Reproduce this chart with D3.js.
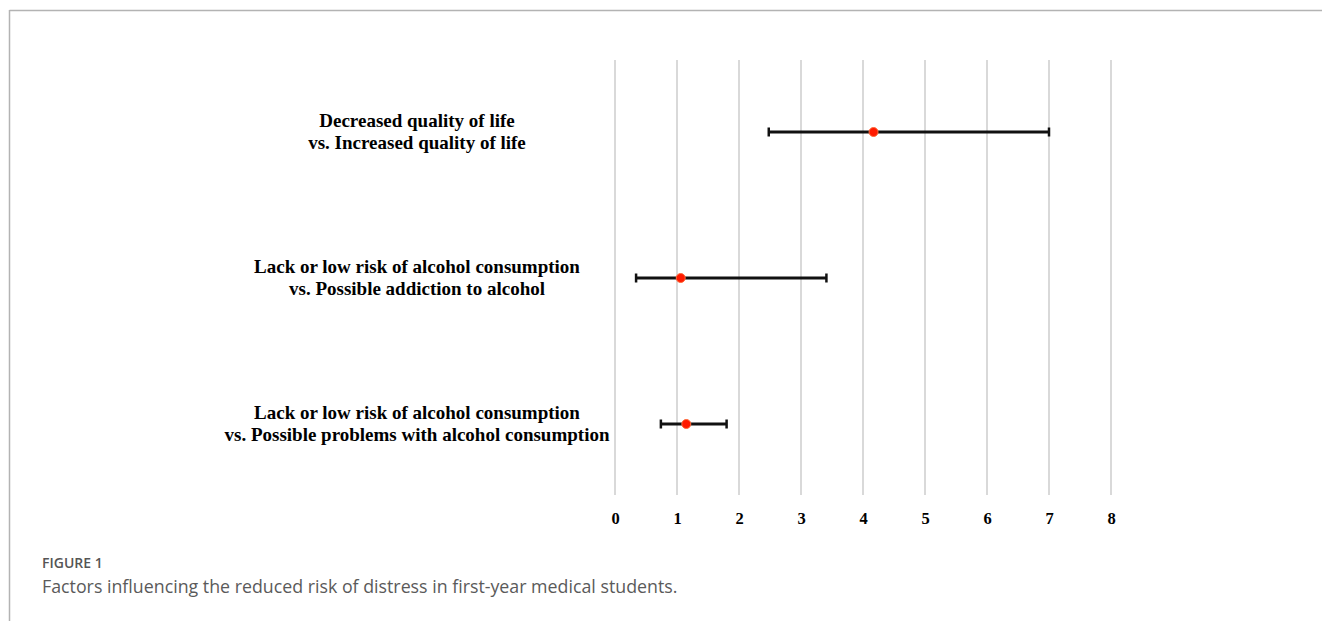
<!DOCTYPE html>
<html>
<head>
<meta charset="utf-8">
<script src="https://cdn.jsdelivr.net/npm/d3@7"></script>
<style>
  html, body { margin: 0; padding: 0; background: #fff; }
  svg { display: block; }
</style>
</head>
<body>
<svg id="chart" width="1322" height="621"></svg>
<script>
// Odds ratios with 95% confidence intervals
const categories = [
  ["Decreased quality of life", "vs. Increased quality of life"],
  ["Lack or low risk of alcohol consumption", "vs. Possible addiction to alcohol"],
  ["Lack or low risk of alcohol consumption", "vs. Possible problems with alcohol consumption"]
];
const oddsRatio = [4.17, 1.06, 1.15];
const ciLower = [2.48, 0.34, 0.74];
const ciUpper = [7.0, 3.41, 1.80];
const xTicks = [0, 1, 2, 3, 4, 5, 6, 7, 8];

const svg = d3.select("#chart");

// Figure frame (top and left rules)
svg.append("line").attr("x1", 9.5).attr("x2", 1322).attr("y1", 10.5).attr("y2", 10.5)
  .attr("stroke", "#b3b3b3").attr("stroke-width", 1.5);
svg.append("line").attr("x1", 9.5).attr("x2", 9.5).attr("y1", 10).attr("y2", 621)
  .attr("stroke", "#b3b3b3").attr("stroke-width", 1.5);

const x = d3.scaleLinear().domain([0, 8]).range([615, 1111]);
const y = d3.scalePoint().domain(d3.range(categories.length)).range([132, 424]);

const plotTop = 60, plotBottom = 495;
const serif = "'Liberation Serif', 'Times New Roman', serif";

// Vertical gridlines
svg.append("g")
  .selectAll("line")
  .data(xTicks)
  .join("line")
  .attr("x1", d => x(d)).attr("x2", d => x(d))
  .attr("y1", plotTop).attr("y2", plotBottom)
  .attr("stroke", "#d9d9d9").attr("stroke-width", 2);

// Tick labels along the bottom
const xAxis = d3.axisBottom(x).tickValues(xTicks).tickSize(0).tickPadding(0);
const axisG = svg.append("g").attr("transform", `translate(0, 512)`).call(xAxis);
axisG.select(".domain").remove();
axisG.selectAll("text")
  .attr("font-family", serif)
  .attr("font-weight", "bold")
  .attr("font-size", 16.5)
  .attr("fill", "#000");

// Row labels
const labelG = svg.append("g");
categories.forEach((lines, i) => {
  const t = labelG.append("text")
    .attr("text-anchor", "middle")
    .attr("font-family", serif)
    .attr("font-weight", "bold")
    .attr("font-size", 19)
    .attr("fill", "#000");
  lines.forEach((ln, j) => {
    t.append("tspan")
      .attr("x", 417)
      .attr("y", y(i) + (j - 0.5) * 22.5 + 6)
      .text(ln);
  });
});

// Confidence interval whiskers
const bars = svg.append("g").selectAll("g").data(oddsRatio).join("g");
bars.append("line")
  .attr("x1", (d, i) => x(ciLower[i])).attr("x2", (d, i) => x(ciUpper[i]))
  .attr("y1", (d, i) => y(i)).attr("y2", (d, i) => y(i))
  .attr("stroke", "#111").attr("stroke-width", 3);
bars.append("line")
  .attr("x1", (d, i) => x(ciLower[i])).attr("x2", (d, i) => x(ciLower[i]))
  .attr("y1", (d, i) => y(i) - 4.5).attr("y2", (d, i) => y(i) + 4.5)
  .attr("stroke", "#111").attr("stroke-width", 2.5);
bars.append("line")
  .attr("x1", (d, i) => x(ciUpper[i])).attr("x2", (d, i) => x(ciUpper[i]))
  .attr("y1", (d, i) => y(i) - 4.5).attr("y2", (d, i) => y(i) + 4.5)
  .attr("stroke", "#111").attr("stroke-width", 2.5);

// Point estimates
bars.append("circle")
  .attr("cx", d => x(d))
  .attr("cy", (d, i) => y(i))
  .attr("r", 4.5)
  .attr("fill", "#ff1a00")
  .attr("stroke", "#ff6a3a")
  .attr("stroke-width", 1);

// Caption
svg.append("text")
  .attr("x", 42).attr("y", 568)
  .attr("font-family", "'Open Sans', Lato, sans-serif")
  .attr("font-weight", 600)
  .attr("font-size", 14)
  .attr("fill", "#555")
  .text("FIGURE 1");
svg.append("text")
  .attr("x", 42).attr("y", 593)
  .attr("font-family", "'Open Sans', Lato, sans-serif")
  .attr("font-size", 17.8)
  .attr("fill", "#5a5a5a")
  .text("Factors influencing the reduced risk of distress in first-year medical students.");
</script>
</body>
</html>
